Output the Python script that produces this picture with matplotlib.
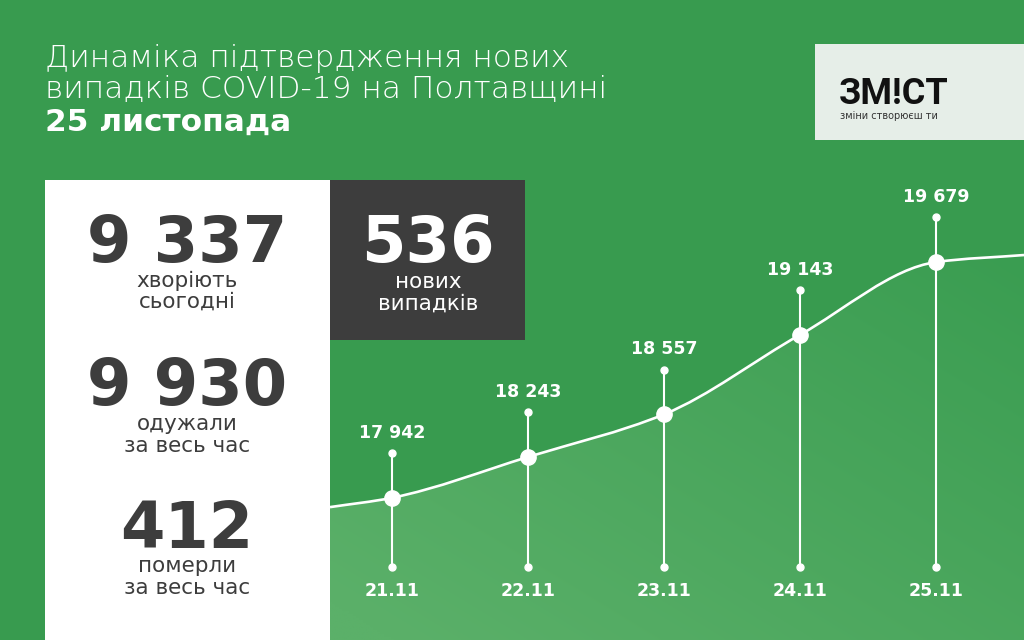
import numpy as np
import matplotlib
matplotlib.use("Agg")
import matplotlib.pyplot as plt
from matplotlib.path import Path
from matplotlib.patches import PathPatch, Rectangle
import matplotlib.transforms as mtransforms

plt.rcParams['font.family'] = ['DejaVu Sans']

# data
dates = ['21.11', '22.11', '23.11', '24.11', '25.11']
total_cases = [17942, 18243, 18557, 19143, 19679]
total_labels = ['17 942', '18 243', '18 557', '19 143', '19 679']
sick_today = '9 337'
recovered = '9 930'
died = '412'
new_cases = '536'

GREEN = '#389b4f'
DARK = '#3d3d3d'

W, H = 1024, 640
fig = plt.figure(figsize=(W / 100, H / 100), dpi=100)
fig.patch.set_facecolor(GREEN)


def fx(px):
    return px / W


def fy(py):
    return 1 - py / H


# chart axes (from x=330px to right edge, y=180px to bottom)
ax = fig.add_axes([fx(330), 0, 1 - fx(330), fy(180)])
ax.set_facecolor('none')
ax.set_xlim(-0.456, 4.647)
ax.set_ylim(16894, 20284)
ax.axis('off')
x0, x1 = ax.get_xlim()
y0, ytop = ax.get_ylim()

x = np.arange(len(total_cases), dtype=float)
y = np.array(total_cases, dtype=float)

# curve tails at the axes edges
y_left = y[0] - 0.5 * (y[1] - y[0]) * (x[0] - x0)
y_right = y[-1] + 0.15 * (y[-1] - y[-2]) * (x1 - x[-1])
px = np.concatenate([[x0], x, [x1]])
py = np.concatenate([[y_left], y, [y_right]])

# smooth monotone path with cubic bezier segments
dx = np.diff(px)
sl = np.diff(py) / dx
m = np.zeros_like(px)
m[1:-1] = 2 * sl[:-1] * sl[1:] / (sl[:-1] + sl[1:])
m[0] = sl[0]
m[-1] = sl[-1]
verts = [(px[0], py[0])]
codes = [Path.MOVETO]
for i in range(len(px) - 1):
    h = dx[i] / 3
    verts += [(px[i] + h, py[i] + h * m[i]),
              (px[i + 1] - h, py[i + 1] - h * m[i + 1]),
              (px[i + 1], py[i + 1])]
    codes += [Path.CURVE4] * 3
curve = Path(verts, codes)

fill_path = Path(verts + [(x1, y0), (x0, y0), (x0, py[0])],
                 codes + [Path.LINETO, Path.LINETO, Path.CLOSEPOLY])
fill_patch = PathPatch(fill_path, facecolor='none', edgecolor='none')
ax.add_patch(fill_patch)

# diagonal gradient under the curve
gx, gy = np.meshgrid(np.linspace(0, 1, 200), np.linspace(0, 1, 200))
grad = np.clip(0.55 * gx + 0.6 * (1 - gy) - 0.05, 0, 1)
c_light = np.array([0x5b, 0xb0, 0x69]) / 255
c_dark = np.array([0x3a, 0x9d, 0x51]) / 255
img = c_light[None, None, :] * (1 - grad[..., None]) + c_dark[None, None, :] * grad[..., None]
im = ax.imshow(img, extent=[x0, x1, y0, ytop], origin='upper',
               aspect='auto', zorder=1, interpolation='bilinear')
im.set_clip_path(fill_patch)

ax.add_patch(PathPatch(curve, facecolor='none', edgecolor='white', lw=1.9, zorder=3))

# stems, dots and labels
stem = 330
trans = mtransforms.blended_transform_factory(ax.transData, ax.transAxes)
bottom_frac = (640 - 567) / 460
for xi, yi, lab, d in zip(x, y, total_labels, dates):
    top = yi + stem
    ax.plot([xi, xi], [y0 + bottom_frac * (ytop - y0), top], color='white', lw=1.5, zorder=2)
    ax.plot(xi, top, 'o', color='white', ms=5, zorder=4)
    ax.plot(xi, bottom_frac, 'o', color='white', ms=5, zorder=4, transform=trans)
    ax.plot(xi, yi, 'o', color='white', ms=11, zorder=5)
    ax.annotate(lab, (xi, top), xytext=(0, 11), textcoords='offset points',
                ha='center', va='baseline', color='white', fontsize=12.5, fontweight='bold')
    ax.text(xi, (640 - 596) / 460, d, transform=trans, ha='center', va='baseline',
            color='white', fontsize=12.5, fontweight='bold')

# panels
fig.patches.append(Rectangle((fx(45), 0), fx(330) - fx(45), fy(180), transform=fig.transFigure,
                             facecolor='white', edgecolor='none', zorder=0))
fig.patches.append(Rectangle((fx(330), fy(340)), fx(525) - fx(330), fy(180) - fy(340),
                             transform=fig.transFigure, facecolor=DARK, edgecolor='none', zorder=5))
fig.patches.append(Rectangle((fx(815), fy(140)), 1 - fx(815), fy(44) - fy(140),
                             transform=fig.transFigure, facecolor='#e6eee8', edgecolor='none', zorder=5))

# title
fig.text(fx(45), fy(67), 'Динаміка підтвердження нових', color='white', fontsize=22.5,
         fontweight='light', va='baseline')
fig.text(fx(45), fy(98), 'випадків COVID-19 на Полтавщині', color='white', fontsize=22.5,
         fontweight='light', va='baseline')
fig.text(fx(45), fy(131), '25 листопада', color='white', fontsize=22.5,
         fontweight='bold', va='baseline')

# logo
fig.text(fx(839), fy(104), 'ЗМ!СТ', color='#111111', fontsize=26, fontweight='bold',
         family=['Roboto', 'DejaVu Sans'], va='baseline', zorder=6)
fig.text(fx(840), fy(119), 'зміни створюєш ти', color='#333333', fontsize=7,
         va='baseline', zorder=6)

# left panel numbers
cx = fx(187)
fig.text(cx, fy(262), sick_today, color=DARK, fontsize=46, fontweight='bold', ha='center', va='baseline')
fig.text(cx, fy(287), 'хворіють', color=DARK, fontsize=15.5, ha='center', va='baseline')
fig.text(cx, fy(308), 'сьогодні', color=DARK, fontsize=15.5, ha='center', va='baseline')

fig.text(cx, fy(405), recovered, color=DARK, fontsize=46, fontweight='bold', ha='center', va='baseline')
fig.text(cx, fy(430), 'одужали', color=DARK, fontsize=15.5, ha='center', va='baseline')
fig.text(cx, fy(452), 'за весь час', color=DARK, fontsize=15.5, ha='center', va='baseline')

fig.text(cx, fy(548), died, color=DARK, fontsize=46, fontweight='bold', ha='center', va='baseline')
fig.text(cx, fy(572), 'померли', color=DARK, fontsize=15.5, ha='center', va='baseline')
fig.text(cx, fy(594), 'за весь час', color=DARK, fontsize=15.5, ha='center', va='baseline')

cx2 = fx(428)
fig.text(cx2, fy(262), new_cases, color='white', fontsize=46, fontweight='bold', ha='center',
         va='baseline', zorder=6)
fig.text(cx2, fy(288), 'нових', color='white', fontsize=15.5, ha='center', va='baseline', zorder=6)
fig.text(cx2, fy(310), 'випадків', color='white', fontsize=15.5, ha='center', va='baseline', zorder=6)

fig.savefig('out.png', dpi=100, facecolor=GREEN)
